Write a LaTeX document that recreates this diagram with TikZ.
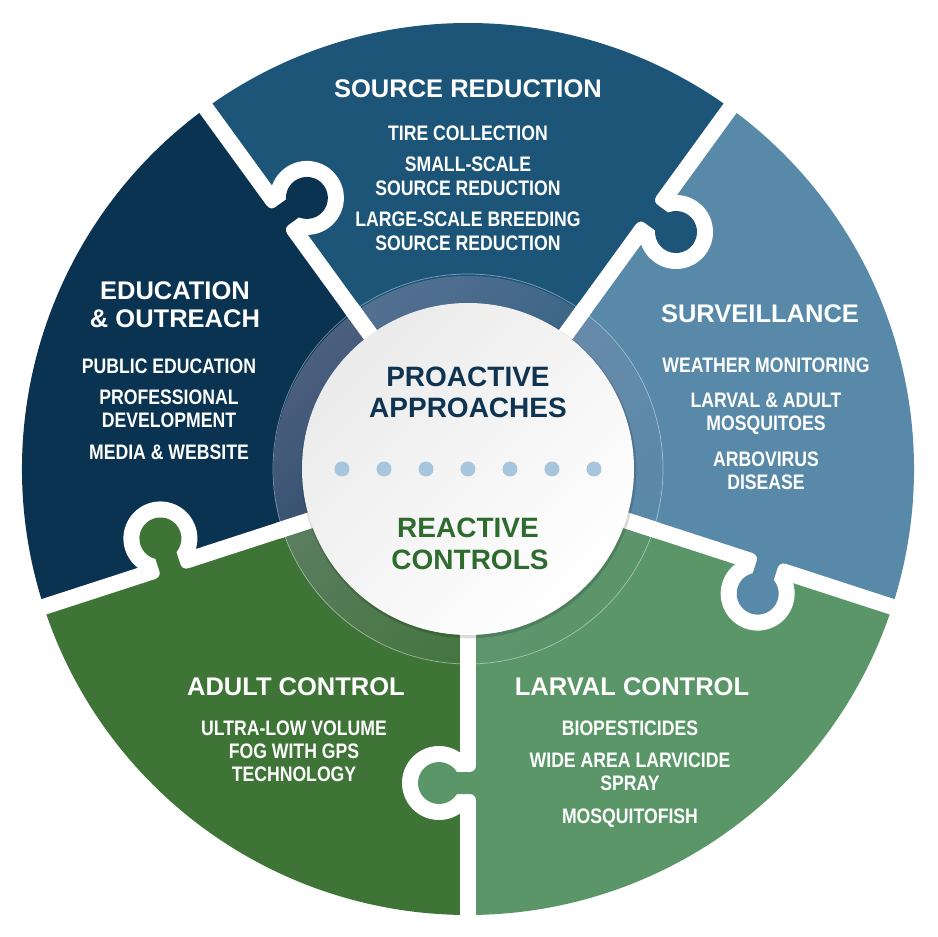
\documentclass[tikz,border=0pt]{standalone}
\usepackage{fontspec}
\setmainfont{Liberation Sans}
\newfontfamily\condfont{Liberation Sans}[FakeStretch=0.84]
\usetikzlibrary{calc,fadings}
\definecolor{srcC}{HTML}{1C5577}
\definecolor{eduC}{HTML}{0A3352}
\definecolor{survC}{HTML}{5889A8}
\definecolor{adultC}{HTML}{3E7436}
\definecolor{larvC}{HTML}{5B9669}
\definecolor{navyT}{HTML}{0E3452}
\definecolor{greenT}{HTML}{2F6B2F}
\definecolor{dotC}{HTML}{A7C5DC}
\definecolor{ringC}{HTML}{9490B0}
\tikzfading[name=ringfade, top color=transparent!52, bottom color=transparent!100]
\begin{document}
\begin{tikzpicture}[x=1pt,y=1pt,
  segtitle/.style={anchor=base, text=white, inner sep=0pt, font=\bfseries\fontsize{25.5}{28}\selectfont},
  segitem/.style={anchor=base, text=white, inner sep=0pt, font=\condfont\bfseries\fontsize{21}{23}\selectfont},
  hubtext/.style={anchor=base, inner sep=0pt, font=\bfseries\fontsize{28}{30}\selectfont},
  hubdot/.style={circle, fill=dotC, minimum size=15pt, inner sep=0pt},
  gap/.style={white, line width=16pt},
]
\useasboundingbox (-468,-468) rectangle (470,469);
% sectors
\foreach \a/\c in {54/srcC,126/eduC,198/adultC,270/larvC,342/survC}{
  \fill[\c] (0,0) -- (\a:446) arc[start angle=\a, end angle=\a+72, radius=446] -- cycle;
}
% separators
\foreach \a in {54,126,198,270,342}{
  \draw[gap] (0,0) -- (\a:470);
}
% puzzle tabs (each piece pushes a knob into its clockwise neighbour)
\foreach \a/\c in {54/srcC,126/eduC,198/adultC,270/larvC,342/survC}{
  \begin{scope}[shift={(\a:314)}, rotate=\a-90]
    \fill[white] (29,0) circle[radius=37];
    \fill[\c] (-14,-17) -- (-8,-17) arc[start angle=180,end angle=90,radius=6]
       -- (29,-11) -- (29,11) -- (-2,11) arc[start angle=270,end angle=180,radius=6]
       -- (-8,17) -- (-14,17) -- cycle;
    \fill[\c] (29,0) circle[radius=21];
  \end{scope}
}
% ring
\fill[ringC, path fading=ringfade, fading angle=45, even odd rule] (0,0) circle[radius=195] (0,0) circle[radius=166];
\foreach \a in {54,126,198,270,342}{
  \draw[gap] (\a:150) -- (\a:200);
}
\draw[white, opacity=0.45, line width=0.7pt] (0,0) circle[radius=195];
% hub
\fill[black, opacity=0.14] (0.8,-1.8) circle[radius=167.5];
\node[circle, minimum size=332pt, inner sep=0pt, top color=gray!16, bottom color=white, shading angle=45] (hub) at (0,0) {};
\node[hubtext, text=navyT] (pro1) at (0,82) {PROACTIVE};
\node[hubtext, text=navyT] (pro2) at (0,51) {APPROACHES};
\node[hubtext, text=greenT] (rea1) at (0,-69) {REACTIVE};
\node[hubtext, text=greenT] (rea2) at (2,-101) {CONTROLS};
\foreach \i in {0,...,6}{
  \node[hubdot] (dot\i) at ({-126+42*\i},0) {};
}
% source reduction
\node[segtitle] (srcT) at (0,371.5) {SOURCE REDUCTION};
\node[segitem] (src1) at (0,328.5) {TIRE COLLECTION};
\node[segitem] (src2) at (0,297.5) {SMALL-SCALE};
\node[segitem] (src3) at (0,273.5) {SOURCE REDUCTION};
\node[segitem] (src4) at (0,242.5) {LARGE-SCALE BREEDING};
\node[segitem] (src5) at (0,218.5) {SOURCE REDUCTION};
% education
\node[segtitle] (eduT1) at (-293,169.5) {EDUCATION};
\node[segtitle] (eduT2) at (-293,141.5) {\& OUTREACH};
\node[segitem] (edu1) at (-299,95.5) {PUBLIC EDUCATION};
\node[segitem] (edu2) at (-299,64.5) {PROFESSIONAL};
\node[segitem] (edu3) at (-299,41.5) {DEVELOPMENT};
\node[segitem] (edu4) at (-299,9.5) {MEDIA \& WEBSITE};
% surveillance
\node[segtitle] (survT) at (292,146.5) {SURVEILLANCE};
\node[segitem] (surv1) at (298,96.5) {WEATHER MONITORING};
\node[segitem] (surv2) at (298,61.5) {LARVAL \& ADULT};
\node[segitem] (surv3) at (298,38.5) {MOSQUITOES};
\node[segitem] (surv4) at (298,2.5) {ARBOVIRUS};
\node[segitem] (surv5) at (298,-20.5) {DISEASE};
% adult control
\node[segtitle] (adT) at (-172,-226.5) {ADULT CONTROL};
\node[segitem] (ad1) at (-174,-266.5) {ULTRA-LOW VOLUME};
\node[segitem] (ad2) at (-174,-289.5) {FOG WITH GPS};
\node[segitem] (ad3) at (-174,-312.5) {TECHNOLOGY};
% larval control
\node[segtitle] (lvT) at (164,-226.5) {LARVAL CONTROL};
\node[segitem] (lv1) at (162,-266.5) {BIOPESTICIDES};
\node[segitem] (lv2) at (162,-298.5) {WIDE AREA LARVICIDE};
\node[segitem] (lv3) at (162,-321.5) {SPRAY};
\node[segitem] (lv4) at (162,-354.5) {MOSQUITOFISH};
\end{tikzpicture}
\end{document}
